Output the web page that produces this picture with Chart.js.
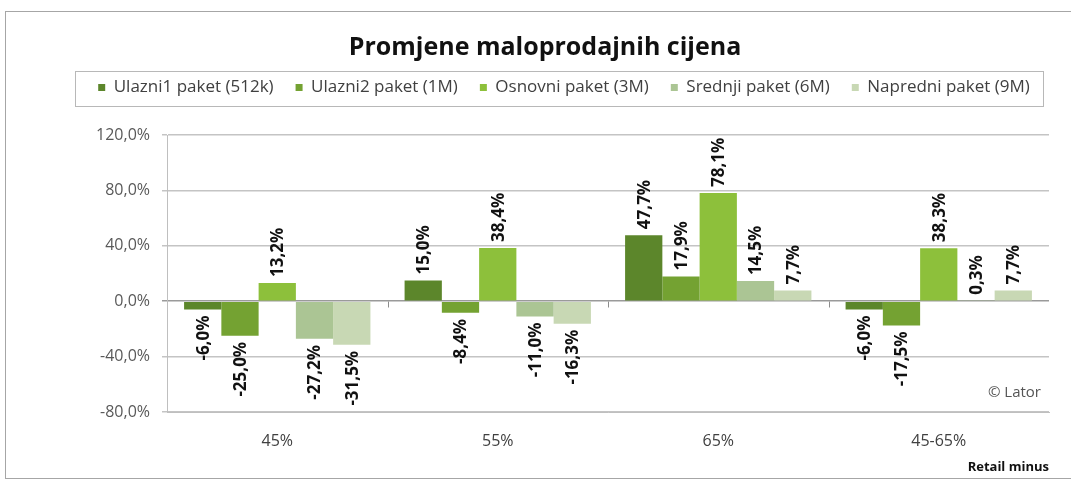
<!DOCTYPE html>
<html>
<head>
<meta charset="utf-8">
<script src="https://cdn.jsdelivr.net/npm/chart.js@4"></script>
<style>
  html, body { margin: 0; background: #fff; overflow: hidden; }
  #frame {
    position: absolute; left: 5px; top: 11px;
    width: 1070px; height: 466px;
    border: 1px solid #a6a6a6; border-right: none;
    overflow: hidden;
  }
  #frame canvas { display: block; }
</style>
</head>
<body>
<div id="frame"><canvas id="priceChart" width="1078" height="466"></canvas></div>
<script>
const categories = ['45%', '55%', '65%', '45-65%'];
const seriesNames = [
    'Ulazni1 paket (512k)',
    'Ulazni2 paket (1M)',
    'Osnovni paket (3M)',
    'Srednji paket (6M)',
    'Napredni paket (9M)'
];
const ulazni1 = [-6.0, 15.0, 47.7, -6.0];
const ulazni2 = [-25.0, -8.4, 17.9, -17.5];
const osnovni = [13.2, 38.4, 78.1, 38.3];
const srednji = [-27.2, -11.0, 14.5, 0.3];
const napredni = [-31.5, -16.3, 7.7, 7.7];
const yTicks = [-80, -40, 0, 40, 80, 120];

const colors = ['#5c862b', '#74a232', '#8dc03b', '#abc594', '#c8d8b4'];

function pct(v, d) {
    return v.toFixed(d).replace('.', ',') + '%';
}

// taller legend row so the plot starts lower, and the row nudged like the original
const legendTweak = {
    id: 'legendTweak',
    beforeInit(chart) {
        const lg = chart.legend;
        if (!lg) return;
        const fit = lg.fit;
        lg.fit = function () {
            fit.call(this);
            this.height += 22;
        };
    },
    afterUpdate(chart) {
        const lg = chart.legend;
        const dx = 19, dy = -7;
        lg.left += dx;
        lg.right += dx;
        lg.top += dy;
        lg.bottom += dy;
        (lg.legendHitBoxes || []).forEach(h => { h.left += dx; h.top += dy; });
    }
};

// rotated value labels, border round the legend, category ticks, copyright note
const extras = {
    id: 'extras',
    afterDatasetsDraw(chart) {
        const c = chart.ctx;
        const xs = chart.scales.x, ys = chart.scales.y;
        c.save();
        // small tick marks between categories on the zero line
        c.strokeStyle = '#8c8c8c';
        c.lineWidth = 1;
        const y0 = Math.round(ys.getPixelForValue(0)) + 0.5;
        for (let i = 1; i < categories.length; i++) {
            const x = Math.round((xs.getPixelForValue(i - 1) + xs.getPixelForValue(i)) / 2) + 0.5;
            c.beginPath();
            c.moveTo(x, y0);
            c.lineTo(x, y0 + 6);
            c.stroke();
        }
        c.font = 'bold 17px "Open Sans"';
        c.fillStyle = '#111';
        c.textBaseline = 'middle';
        chart.data.datasets.forEach((ds, i) => {
            chart.getDatasetMeta(i).data.forEach((bar, j) => {
                const v = ds.data[j];
                c.save();
                c.translate(bar.x + 1, bar.y + (v >= 0 ? -6 : 6));
                c.rotate(-Math.PI / 2);
                c.textAlign = v >= 0 ? 'left' : 'right';
                c.fillText(pct(v, 1), 0, 0);
                c.restore();
            });
        });
        const a = chart.chartArea;
        c.font = '15px "Open Sans"';
        c.fillStyle = '#555';
        c.textAlign = 'right';
        c.fillText('\u00A9 Lator', a.right - 8, a.bottom - 19);
        c.restore();
    },
    afterDraw(chart) {
        const boxes = chart.legend.legendHitBoxes;
        if (!boxes || !boxes.length) return;
        const c = chart.ctx;
        let l = Infinity, r = -Infinity, t = Infinity, b = -Infinity;
        boxes.forEach(h => {
            l = Math.min(l, h.left); r = Math.max(r, h.left + h.width);
            t = Math.min(t, h.top); b = Math.max(b, h.top + h.height);
        });
        const cy = (t + b) / 2;
        c.save();
        c.strokeStyle = '#b8b8b8';
        c.lineWidth = 1;
        c.strokeRect(Math.round(l - 23) + 0.5, Math.round(cy - 17) + 0.5, Math.round(r - l + 36), 35);
        c.restore();
    }
};

const series = [ulazni1, ulazni2, osnovni, srednji, napredni];

new Chart(document.getElementById('priceChart'), {
    type: 'bar',
    data: {
        labels: categories,
        datasets: series.map((d, i) => ({
            label: seriesNames[i],
            data: d,
            backgroundColor: colors[i],
            categoryPercentage: 0.845,
            barPercentage: 1.0
        }))
    },
    options: {
        responsive: false,
        animation: false,
        layout: { padding: { left: 0, right: 0, top: 0, bottom: 2 } },
        plugins: {
            title: {
                display: true,
                text: 'Promjene maloprodajnih cijena',
                color: '#111',
                font: { family: '"Open Sans"', size: 25, weight: 'bold' },
                padding: { top: 21, bottom: 1 }
            },
            legend: {
                position: 'top',
                labels: {
                    boxWidth: 7,
                    boxHeight: 7,
                    padding: 22,
                    color: '#404040',
                    font: { family: '"Open Sans"', size: 17 }
                }
            },
            tooltip: { enabled: false }
        },
        scales: {
            x: {
                afterFit(s) { s.height = 64; },
                grid: { display: false, drawTicks: false },
                border: { color: '#bfbfbf' },
                ticks: {
                    color: '#404040',
                    padding: 20,
                    font: { family: '"Open Sans"', size: 16 }
                },
                title: {
                    display: true,
                    text: 'Retail minus',
                    align: 'end',
                    color: '#111',
                    padding: { top: 6, bottom: 1 },
                    font: { family: '"Open Sans"', size: 13, weight: 'bold' }
                }
            },
            y: {
                min: -80,
                max: 120,
                afterFit(s) { s.width = 161; },
                afterBuildTicks(s) { s.ticks = yTicks.map(v => ({ value: v })); },
                grid: {
                    color: ctx => ctx.tick && ctx.tick.value === 0 ? '#9a9a9a' : '#c4c4c4',
                    lineWidth: 1.5,
                    drawTicks: true,
                    tickLength: 5
                },
                border: { color: '#bfbfbf' },
                ticks: {
                    color: '#595959',
                    padding: 12,
                    font: { family: '"Open Sans"', size: 16 },
                    callback: v => pct(v, 1)
                }
            },
            spacer: {
                position: 'right',
                display: true,
                afterFit(s) { s.width = 35; },
                grid: { display: false },
                border: { display: false },
                ticks: { display: false }
            }
        }
    },
    plugins: [legendTweak, extras]
});
</script>
</body>
</html>
